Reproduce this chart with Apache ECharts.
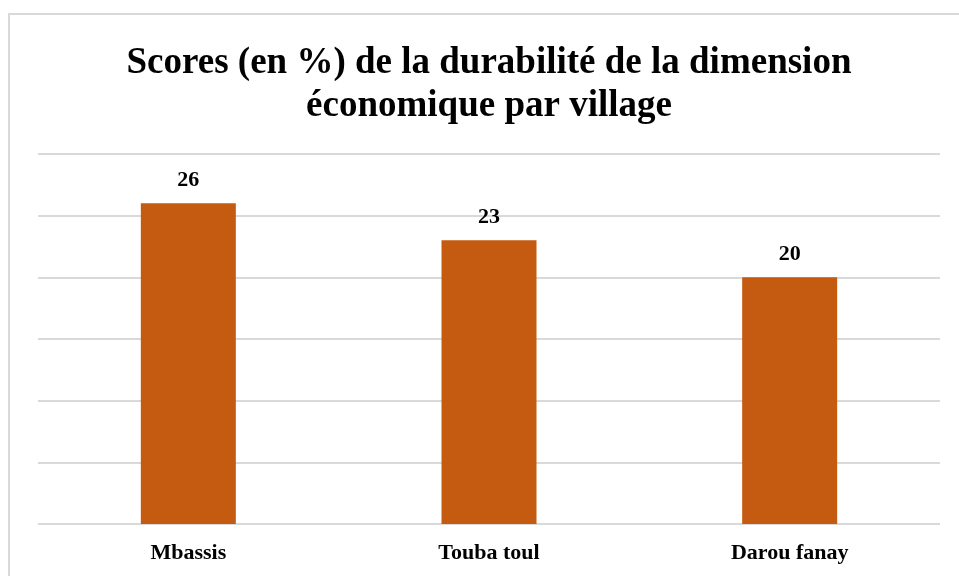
<!DOCTYPE html>
<html>
<head>
<meta charset="utf-8">
<script src="https://cdn.jsdelivr.net/npm/echarts@6/dist/echarts.min.js"></script>
<style>
  html, body { margin: 0; padding: 0; background: #fff; }
  #main { width: 959px; height: 576px; }
</style>
</head>
<body>
<div id="main"></div>
<script>
// données
var villages = ['Mbassis', 'Touba toul', 'Darou fanay'];
var scores = [26, 23, 20];

var serif = '"Liberation Serif", "Times New Roman", serif';
var myChart = echarts.init(document.getElementById('main'));

myChart.setOption({
    animation: false,
    title: {
        text: 'Scores (en %) de la durabilité de la dimension\néconomique par village',
        left: 489,
        top: 42,
        padding: 0,
        textAlign: 'center',
        textStyle: {
            fontFamily: serif,
            fontWeight: 'bold',
            fontSize: 37,
            lineHeight: 43,
            color: '#000'
        }
    },
    graphic: [{
        type: 'rect',
        shape: { x: 9, y: 14, width: 970, height: 600 },
        style: { fill: 'none', stroke: '#d9d9d9', lineWidth: 2 },
        silent: true
    }],
    grid: {
        left: 38,
        right: 19,
        top: 154,
        bottom: 52
    },
    xAxis: {
        type: 'category',
        data: villages,
        axisTick: { show: false },
        axisLine: { show: false },
        axisLabel: {
            margin: 18,
            fontFamily: serif,
            fontWeight: 'bold',
            fontSize: 22,
            color: '#000'
        }
    },
    yAxis: {
        type: 'value',
        min: 0,
        max: 30,
        interval: 5,
        axisLabel: { show: false },
        axisLine: { show: false },
        axisTick: { show: false },
        splitLine: {
            lineStyle: { color: '#d9d9d9', width: 2 }
        }
    },
    series: [{
        type: 'bar',
        data: scores,
        barWidth: 95,
        itemStyle: { color: '#c55a11' },
        label: {
            show: true,
            position: 'top',
            distance: 12,
            fontFamily: serif,
            fontWeight: 'bold',
            fontSize: 22,
            color: '#000'
        }
    }]
});
</script>
</body>
</html>
